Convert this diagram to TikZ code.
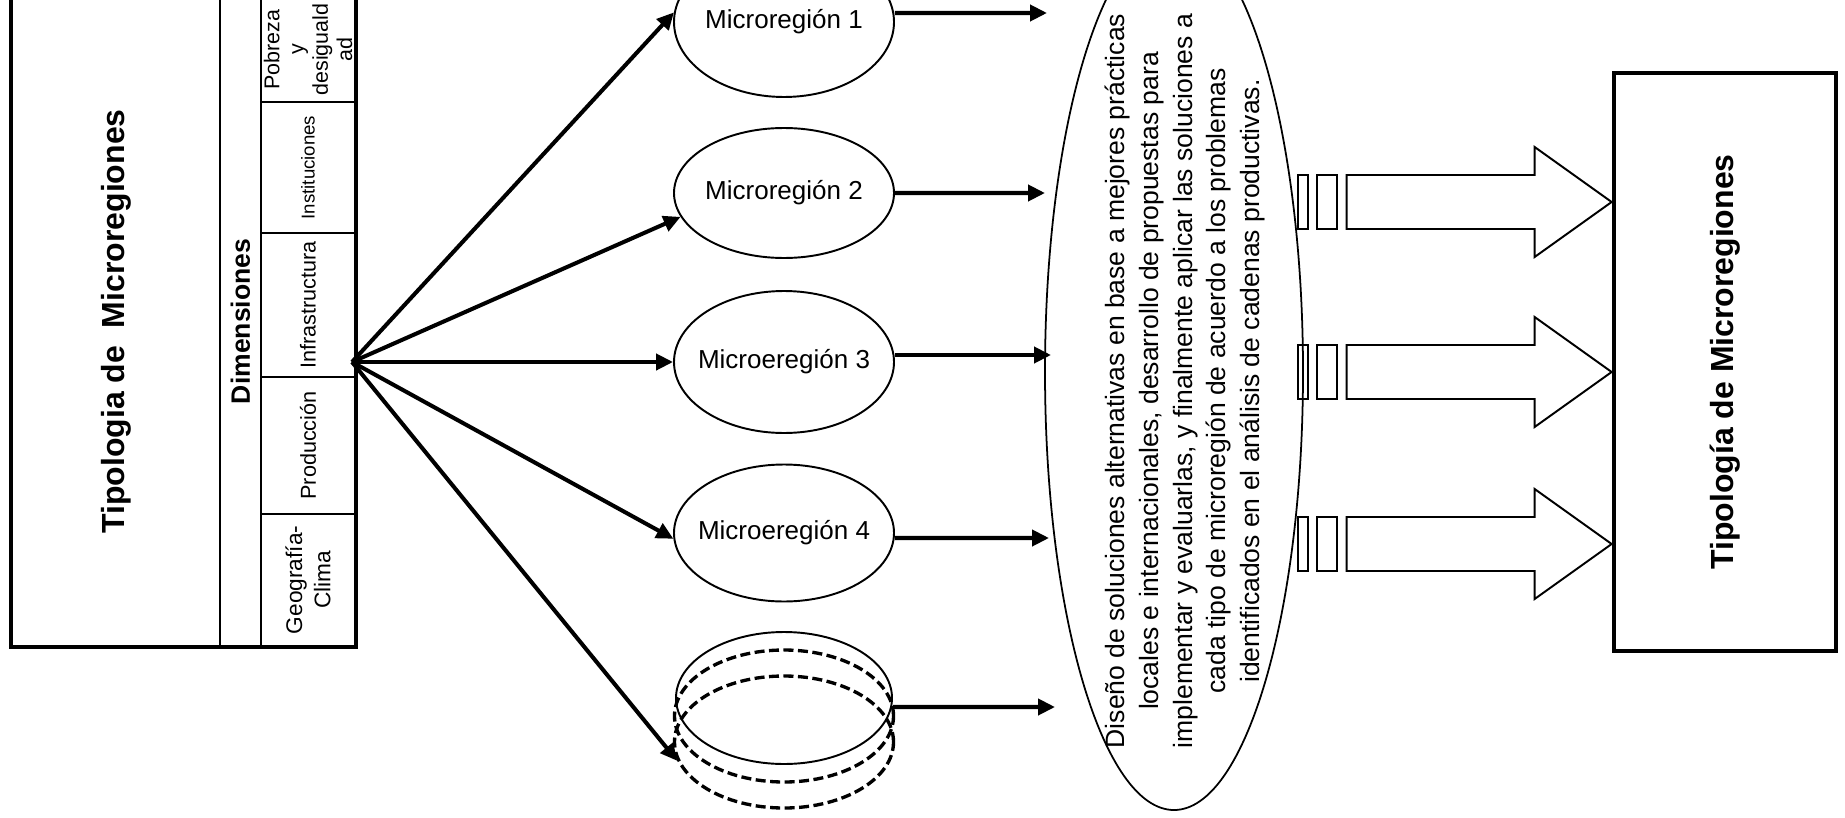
\documentclass[tikz,border=0pt]{standalone}
\usepackage{fontspec}
\usepackage{graphicx}
\setmainfont{Liberation Sans}
\usetikzlibrary{shapes.geometric, arrows.meta}

\tikzstyle{caixaTitol} = [rectangle, draw=black, line width=1.4pt, minimum width=4.16cm, minimum height=12.98cm, inner sep=0, font=\fontsize{18.2}{22}\selectfont\bfseries]
\tikzstyle{columnaDimensions} = [rectangle, draw=black, line width=1.4pt, minimum width=0.82cm, minimum height=12.98cm, inner sep=0, font=\fontsize{15.1}{18}\selectfont\bfseries]
\tikzstyle{cellaDimensio} = [rectangle, draw=black, line width=1.1pt, minimum width=1.88cm, inner sep=0, font=\fontsize{12.3}{16}\selectfont]
\tikzstyle{textCella} = [rotate=90, align=center, inner sep=0, font=\fontsize{12.2}{13.8}\selectfont]
\tikzstyle{voraGruixuda} = [line width=2.4pt]
\tikzstyle{elipseMicro} = [ellipse, draw=black, line width=1.1pt, minimum width=4.4cm, inner sep=0, font=\fontsize{14.8}{18}\selectfont]
\tikzstyle{anellDiscontinu} = [ellipse, draw=black, line width=1.9pt, dash pattern=on 0.2cm off 0.09cm, minimum width=4.38cm, minimum height=2.64cm, inner sep=0]
\tikzstyle{elipseGran} = [ellipse, draw=black, line width=1pt, minimum width=5.16cm, minimum height=17.52cm, inner sep=0]
\tikzstyle{textGran} = [rotate=90, align=center, inner sep=0, font=\fontsize{15.1}{19.2}\selectfont]
\tikzstyle{caixaFinal} = [rectangle, draw=black, line width=2.7pt, minimum width=4.44cm, minimum height=11.56cm, inner sep=0, font=\fontsize{18.2}{22}\selectfont\bfseries]
\tikzstyle{fletxa} = [line width=2.3pt, -{Triangle[length=0.34cm, width=0.32cm]}]
\tikzstyle{fletxaGran} = [line width=1.1pt]

\begin{document}
\begin{tikzpicture}[node distance=2cm]

	\useasboundingbox (0,0) rectangle (36.9,-16.34);
	\clip (0,0) rectangle (36.9,-16.34);

	% Taula de dimensions (esquerra)
	\node (titol) [caixaTitol] at (2.32,-6.43) {\rotatebox{90}{Tipologia de~ Microregiones}};
	\node (dimensions) [columnaDimensions, right of=titol, xshift=0.49cm] {\rotatebox{90}{Dimensiones}};
	\node (infraestructura) [cellaDimensio, minimum height=2.88cm, right of=dimensions, xshift=-0.65cm, yshift=0.33cm] {\rotatebox{90}{Infrastructura}};
	\node (institucions) [cellaDimensio, minimum height=2.62cm, above of=infraestructura, yshift=0.75cm, font=\fontsize{10.6}{13}\selectfont] {\rotatebox{90}{Instituciones}};
	\node (pobresa) [cellaDimensio, minimum height=2.1cm, above of=institucions, yshift=0.36cm] {};
	\node (textPobresa) [textCella] at (pobresa) {Pobreza\\y\\desiguald\\ad};
	\node (produccio) [cellaDimensio, minimum height=2.74cm, below of=infraestructura, yshift=-0.81cm] {\rotatebox{90}{Producción}};
	\node (geografia) [cellaDimensio, minimum height=2.64cm, below of=produccio, yshift=-0.69cm] {};
	\node (textGeografia) [textCella, font=\fontsize{12.9}{16}\selectfont] at (geografia) {Geografía-\\Clima};
	\draw [voraGruixuda] (titol.north west) rectangle (geografia.south east);

	% Nodes de les microregions
	\node (micro3) [elipseMicro, minimum height=2.84cm] at (15.68,-7.24) {\makebox[0pt]{Microeregión 3}};
	\node (micro2) [elipseMicro, minimum height=2.6cm, above of=micro3, yshift=1.38cm] {\makebox[0pt]{Microregión 2}};
	\node (micro1) [elipseMicro, minimum height=3cm, above of=micro2, yshift=1.42cm] {\makebox[0pt]{Microregión 1}};
	\node (micro4) [elipseMicro, minimum height=2.74cm, below of=micro3, yshift=-1.42cm] {\makebox[0pt]{Microeregión 4}};
	\node (anellsA) [anellDiscontinu, below of=micro4, yshift=-1.66cm] {};
	\node (anellsB) [anellDiscontinu, below of=anellsA, yshift=1.48cm] {};
	\node (anells) [elipseMicro, minimum width=4.32cm, minimum height=2.64cm, above of=anellsA, yshift=-1.64cm] {};

	% El\lipse gran
	\node (disseny) [elipseGran] at (23.48,-7.44) {};
	\node (textDisseny) [textGran] at (23.70,-7.62) {Diseño de soluciones alternativas en base a mejores prácticas\\locales e internacionales, desarrollo de propuestas para\\implementar y evaluarlas, y finalmente aplicar las soluciones a\\cada tipo de microregión de acuerdo a los problemas\\identificados en el análisis de cadenas productivas.};

	% Punts sense dimensio (origen i finals de fletxes)
	\coordinate (origen) at (7.04,-7.24);
	\coordinate (fi1) at (20.94,-0.26);
	\coordinate (fi2) at (20.90,-3.86);
	\coordinate (fi3) at (21.02,-7.10);
	\coordinate (fi4) at (20.98,-10.76);
	\coordinate (fi5) at (21.10,-14.14);

	% Fletxes des de les dimensions
	\draw [fletxa] (origen) -- (micro1.175);
	\draw [fletxa] (origen) -- (micro2.193);
	\draw [fletxa] (origen) -- (micro3.west);
	\draw [fletxa] (origen) -- (micro4.183);
	\draw [fletxa] (origen) -- (anellsB.190);

	% Fletxes cap a l'el\lipse gran
	\draw [fletxa] ([yshift=0.18cm]micro1.east) -- (fi1);
	\draw [fletxa] (micro2.east) -- (fi2);
	\draw [fletxa] ([yshift=0.14cm]micro3.east) -- (fi3);
	\draw [fletxa] ([yshift=-0.1cm]micro4.east) -- (fi4);
	\draw [fletxa] ([yshift=-0.18cm]anells.east) -- (fi5);

	% Fletxes grosses cap a la caixa final
	\node (caixaDreta) [caixaFinal] at (34.5,-7.24) {};
	\coordinate (punta1) at ([yshift=3.2cm]caixaDreta.west);
	\coordinate (punta2) at ([yshift=-0.2cm]caixaDreta.west);
	\coordinate (punta3) at ([yshift=-3.64cm]caixaDreta.west);

	\draw [fletxaGran] (punta1) -- ++(-1.54,1.1) -- ++(0,-0.56) -- ++(-3.76,0) -- ++(0,-1.08) -- ++(3.76,0) -- ++(0,-0.56) -- cycle;
	\draw [fletxaGran] ([xshift=-5.5cm, yshift=0.54cm]punta1) rectangle ++(-0.4,-1.08);
	\draw [fletxaGran] ([xshift=-6.08cm, yshift=0.54cm]punta1) rectangle ++(-0.2,-1.08);

	\draw [fletxaGran] (punta2) -- ++(-1.54,1.1) -- ++(0,-0.56) -- ++(-3.76,0) -- ++(0,-1.08) -- ++(3.76,0) -- ++(0,-0.56) -- cycle;
	\draw [fletxaGran] ([xshift=-5.5cm, yshift=0.54cm]punta2) rectangle ++(-0.4,-1.08);
	\draw [fletxaGran] ([xshift=-6.08cm, yshift=0.54cm]punta2) rectangle ++(-0.2,-1.08);

	\draw [fletxaGran] (punta3) -- ++(-1.54,1.1) -- ++(0,-0.56) -- ++(-3.76,0) -- ++(0,-1.08) -- ++(3.76,0) -- ++(0,-0.56) -- cycle;
	\draw [fletxaGran] ([xshift=-5.5cm, yshift=0.54cm]punta3) rectangle ++(-0.4,-1.08);
	\draw [fletxaGran] ([xshift=-6.08cm, yshift=0.54cm]punta3) rectangle ++(-0.2,-1.08);

	\node (titolDreta) [font=\fontsize{18.2}{22}\selectfont\bfseries] at (caixaDreta) {\rotatebox{90}{Tipología de Microregiones}};

\end{tikzpicture}
\end{document}
